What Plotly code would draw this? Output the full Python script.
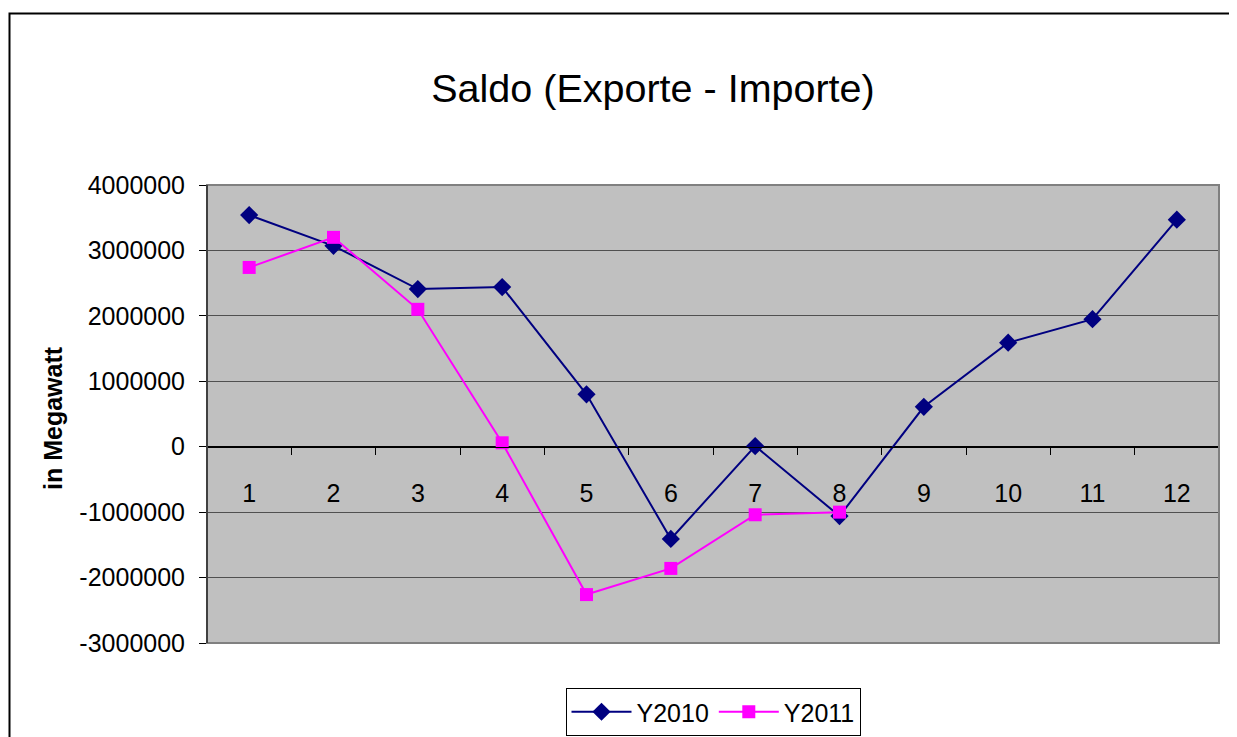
import plotly.graph_objects as go

months = ["1", "2", "3", "4", "5", "6", "7", "8", "9", "10", "11", "12"]
y2010 = [3540000, 3070000, 2410000, 2440000, 800000, -1410000, 10000, -1060000,
         610000, 1590000, 1950000, 3470000]
months_2011 = ["1", "2", "3", "4", "5", "6", "7", "8"]
y2011 = [2740000, 3200000, 2100000, 60000, -2260000, -1860000, -1040000, -1000000]
y_ticks = [-3000000, -2000000, -1000000, 0, 1000000, 2000000, 3000000, 4000000]

FONT = "Arial, Liberation Sans, sans-serif"
OFF = 8  # page body margin
W, H = 1237 - OFF, 737 - OFF
L, R, T, B = 207 - OFF, 1219 - OFF, 185 - OFF, 643 - OFF
pw, ph = R - L, B - T

def px(x):
    return (x - OFF - L) / pw

def py(y):
    return (B - (y - OFF)) / ph

fig = go.Figure()
fig.add_trace(go.Scatter(
    x=months, y=y2010, name="Y2010", mode="lines+markers",
    line=dict(color="#000080", width=2),
    marker=dict(symbol="diamond", size=14, color="#000080"),
))
fig.add_trace(go.Scatter(
    x=months_2011, y=y2011, name="Y2011", mode="lines+markers",
    line=dict(color="#FF00FF", width=2),
    marker=dict(symbol="square", size=13, color="#FF00FF"),
))

fig.update_layout(
    width=W, height=H,
    margin=dict(l=L, r=W - R, t=T, b=H - B, pad=0, autoexpand=False),
    paper_bgcolor="white", plot_bgcolor="#C0C0C0",
    font=dict(family=FONT, size=25, color="black"),
    title=dict(text="Saldo (Exporte - Importe)", x=(653 - OFF) / W, xanchor="center",
               y=1 - (88 - OFF) / H, yanchor="middle", font=dict(size=39.5, family=FONT)),
    showlegend=True,
    legend=dict(orientation="h", x=px(713), xanchor="center", y=py(688), yanchor="top",
                bordercolor="black", borderwidth=1, bgcolor="white",
                font=dict(size=25, family=FONT), itemwidth=60),
    xaxis=dict(type="category", categoryorder="array", categoryarray=months,
               range=[-0.5, 11.5], anchor="free", position=3 / 7,
               showline=True, linecolor="black", linewidth=1,
               ticks="outside", ticklen=7, tickcolor="black", tickwidth=1,
               tickson="boundaries", showgrid=False, zeroline=False,
               ticklabelstandoff=24, tickfont=dict(size=25)),
    yaxis=dict(range=[-3000000, 4000000], tickvals=y_ticks,
               ticktext=[str(v) for v in y_ticks],
               showgrid=True, gridcolor="#505050", gridwidth=1,
               zeroline=True, zerolinecolor="black", zerolinewidth=1,
               ticks="outside", ticklen=7, tickcolor="black",
               showline=False, ticklabelstandoff=9, tickfont=dict(size=25)),
    annotations=[dict(text="<b>in Megawatt</b>", x=px(53), y=py(418),
                      xref="paper", yref="paper", showarrow=False, textangle=-90,
                      font=dict(size=25, family=FONT), xanchor="center", yanchor="middle")],
    shapes=[
        dict(type="rect", xref="paper", yref="paper", x0=0, x1=1, y0=0, y1=1,
             line=dict(color="#808080", width=2)),
        dict(type="line", xref="paper", yref="paper", x0=0, x1=0, y0=0, y1=1,
             line=dict(color="#404040", width=2)),
        dict(type="rect", xref="paper", yref="paper", x0=px(9.5), x1=px(1290),
             y0=py(800), y1=py(13.5), line=dict(color="black", width=2)),
    ],
)

fig.write_html("out.html")
